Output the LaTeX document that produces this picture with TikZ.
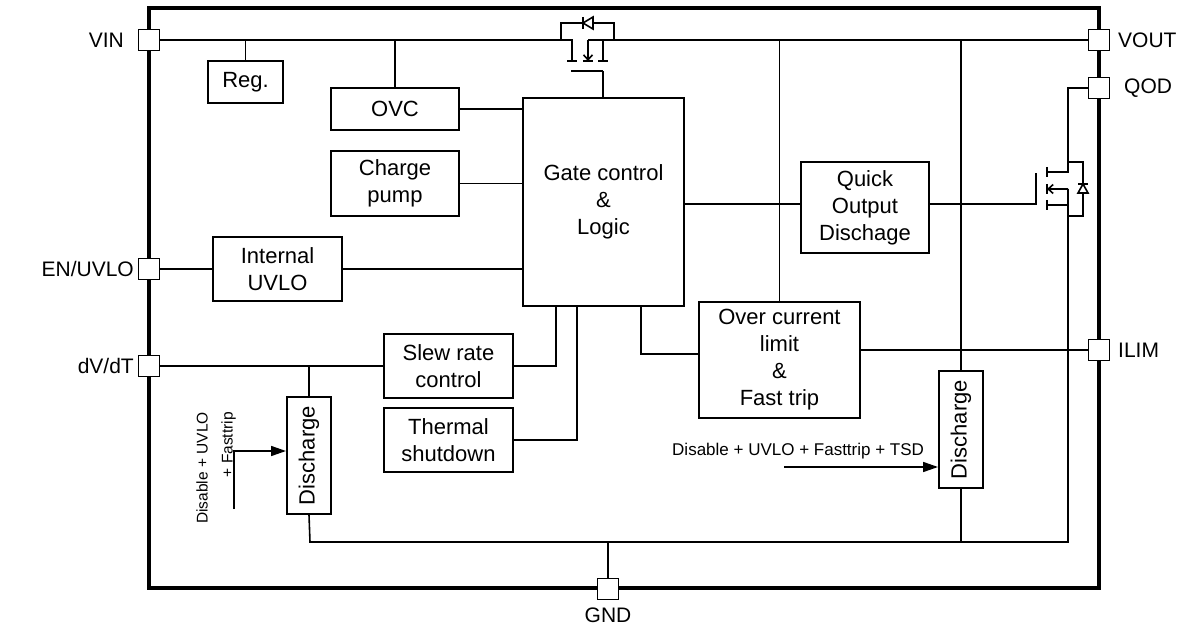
\documentclass[tikz,border=0pt]{standalone}
\usepackage{fontspec}
\setmainfont{Liberation Sans}
\usetikzlibrary{arrows.meta,calc}
\newcommand{\blkfont}{\fontsize{22}{27}\selectfont}
\newcommand{\pinfont}{\fontsize{21}{25}\selectfont}
\newcommand{\sigfont}{\fontsize{17}{20}\selectfont}
\newcommand{\siglfont}{\fontsize{15.5}{25}\selectfont}
\tikzset{
    block/.style = {draw, rectangle, line width=2pt, inner sep=0pt,
        align=center, font=\blkfont},
    pinbox/.style = {draw, rectangle, fill=white, line width=1.4pt,
        minimum size=21pt, inner sep=0pt},
    pinlbl/.style = {inner sep=0pt, font=\pinfont},
    wire/.style = {line width=1.6pt},
    sig/.style = {wire, -{Triangle[length=15pt,width=10pt]}},
    barb/.style = {wire, -{Straight Barb[length=5pt,width=9pt]}}
}

\begin{document}
\begin{tikzpicture}[x=1pt,y=-1pt]
\useasboundingbox (0,0) rectangle (1190,628);
\draw[line width=3.2pt] (149,8) rectangle (1099,588);

\node[block, minimum width=75pt, minimum height=42pt] (reg) at (245.5,82) {Reg.};
\node[block, minimum width=128pt, minimum height=42pt] (ovc) at (395,109) {OVC};
\node[block, minimum width=128pt, minimum height=65pt] (pump) at (395,183.5) {Charge\\pump};
\node[block, minimum width=129pt, minimum height=64pt] (uvlo) at (277.5,269) {Internal\\UVLO};
\node[block, minimum width=161pt, minimum height=208pt] (logic) at (603.5,202) {Gate control\\\&\\Logic};
\node[block, minimum width=128pt, minimum height=91pt] (qod) at (865,207.5) {Quick\\Output\\Dischage};
\node[block, minimum width=161pt, minimum height=116pt] (ocl) at (779.5,360) {Over current\\limit\\\&\\Fast trip};
\node[block, minimum width=129pt, minimum height=64pt] (slew) at (448.5,366) {Slew rate\\control};
\node[block, minimum width=129pt, minimum height=64pt] (tsd) at (448.5,440) {Thermal\\shutdown};
\node[block, minimum width=44pt, minimum height=117pt] (disL) at (309,455.5) {\rotatebox{90}{Discharge}};
\node[block, minimum width=44pt, minimum height=117pt] (disR) at (961,429.5) {\rotatebox{90}{Discharge}};

\node[pinbox] (vin) at (149,40) {};
\node[pinbox] (vout) at (1099,40) {};
\node[pinbox] (qodpin) at (1099,88) {};
\node[pinbox] (en) at (149,269) {};
\node[pinbox] (dvdt) at (149,366) {};
\node[pinbox] (ilim) at (1099,350) {};
\node[pinbox] (gnd) at (608,589) {};

\coordinate (q1g) at (603,71);
\coordinate (qg) at (1036,204);
\coordinate (lg1) at (556,306);
\coordinate (lg2) at (577,306);
\coordinate (lg3) at (641,306);
\coordinate (jo) at (641,354);
\coordinate (bl) at (310,542);
\coordinate (br) at (1068,542);
\coordinate (sL) at (234,451);
\coordinate (sR) at (784,467);

\draw[wire] (vin.east) -- (572,40) -- (572,61);
\draw[wire] (vout.west) -- (588,40);
\draw[barb] (588,40) -- (588,61);
\draw[wire] (603,40) -- (603,61);
\foreach \x in {572,588,603}
    \draw[wire] (\x-5,61) -- (\x+5,61);
\draw[wire] (q1g) -- ++(-32,0);
\draw[wire] (q1g) -- (q1g |- logic.north);
\draw[wire] (561,40) -- (561,23) -- (614,23) -- (614,40);
\draw[wire, fill=white] (593,17) -- (593,29) -- (583,23) -- cycle;
\draw[wire] (583,17) -- (583,29);

\draw[wire] (reg.north) -- (reg.north |- vin.east);
\draw[wire] (ovc.north) -- (ovc.north |- vin.east);
\draw[wire] (ovc.east) -- (ovc.east -| logic.west);
\draw[wire] (pump.east) -- (pump.east -| logic.west);
\draw[wire] (en.east) -- (uvlo.west);
\draw[wire] (uvlo.east) -- (uvlo.east -| logic.west);
\draw[wire] (logic.east |- qg) -- (qod.west |- qg);
\draw[wire] (qod.east |- qg) -- (qg) -- ++(0,-31);
\draw[wire] (lg3) -- (jo) -- (jo -| ocl.west);
\draw[wire] (ocl.north) -- (ocl.north |- vout.west);
\draw[wire] (ocl.east |- ilim.west) -- (ilim.west);
\draw[wire] (disR.north) -- (disR.north |- vout.west);
\draw[wire] (dvdt.east) -- (dvdt.east -| slew.west);
\draw[wire] (disL.north) -- (disL.north |- dvdt.east);
\draw[wire] (slew.east) -| (lg1);
\draw[wire] (tsd.east) -| (lg2);

\draw[wire] (disL.south) -- (bl) -- (br) -- (1068,189);
\draw[wire] (disR.south) -- (disR.south |- bl);
\draw[wire] (gnd.north) -- (gnd.north |- bl);

\draw[wire] (qodpin.west) -| (1068,172) -- (1047,172);
\draw[wire] (1068,162) -| (1083,216) -- (1068,216);
\draw[barb] (1068,189) -- (1047,189);
\draw[wire] (1068,205) -- (1047,205);
\foreach \y in {172,189,205}
    \draw[wire] (1047,\y-5) -- (1047,\y+5);
\draw[wire, fill=white] (1078,193) -- (1088,193) -- (1083,184) -- cycle;
\draw[wire] (1078,184) -- (1088,184);

\draw[sig] (sL) ++(0,58) -- (sL) -- (sL -| disL.west);
\draw[sig] (sR) -- (sR -| disR.west);

\node[anchor=west, inner sep=0pt, font=\sigfont] (sigR) at (672,451) {Disable + UVLO + Fasttrip + TSD};
\node[anchor=east, rotate=90, align=right, inner sep=0pt, font=\siglfont] (sigL) at (216,412) {Disable + UVLO\\+ Fasttrip};

\node[pinlbl, anchor=east] at (124,40) {VIN};
\node[pinlbl, anchor=east] at (134,269) {EN/UVLO};
\node[pinlbl, anchor=east] at (134,366) {dV/dT};
\node[pinlbl, anchor=west] at (1118,40) {VOUT};
\node[pinlbl, anchor=west] at (1124,88) {QOD};
\node[pinlbl, anchor=west] at (1118,350) {ILIM};
\node[pinlbl, anchor=north] at (608,608) {GND};
\end{tikzpicture}
\end{document}
